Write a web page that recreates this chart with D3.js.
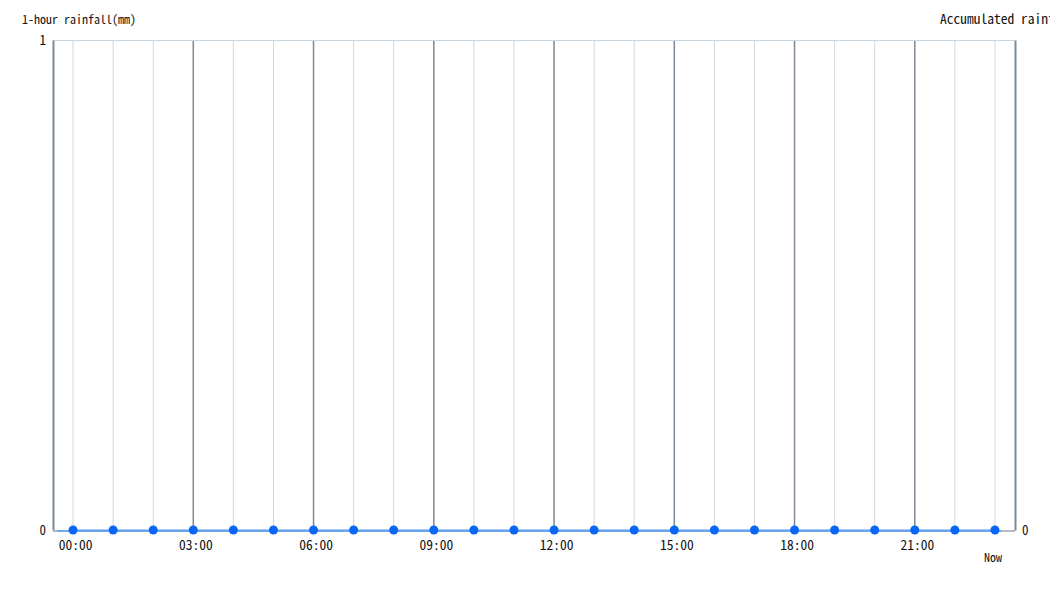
<!DOCTYPE html>
<html>
<head>
<meta charset="utf-8">
<script src="https://cdn.jsdelivr.net/npm/d3@7"></script>
<style>
  html, body { margin: 0; padding: 0; background: #fff; }
  svg { display: block; font-family: "Noto Sans Mono CJK JP", "DejaVu Sans Mono", monospace; }
</style>
</head>
<body>
<svg id="chart" width="1050" height="600"></svg>
<script>
// 時刻 (00:00 .. 23:00, 最後一格 = Now)
const hours = d3.range(24).map((h) => String(h).padStart(2, '0') + ':00');
// 1 小時雨量 (mm)
const rainfall1h = [0, 0, 0, 0, 0, 0, 0, 0, 0, 0, 0, 0, 0, 0, 0, 0, 0, 0, 0, 0, 0, 0, 0, 0];
// 累積雨量 (mm)
const rainfallAcc = [0, 0, 0, 0, 0, 0, 0, 0, 0, 0, 0, 0, 0, 0, 0, 0, 0, 0, 0, 0, 0, 0, 0, 0];
const leftTicks = [0, 1];
const rightTicks = [0];

const W = 1050, H = 600;
const margin = { top: 40, right: 35, bottom: 70, left: 53 };
const svg = d3.select('#chart');

const x = d3.scalePoint().domain(hours).range([margin.left, W - margin.right]).padding(0.5);
const y = d3.scaleLinear().domain([0, 1]).range([H - margin.bottom, margin.top]);
const yAcc = d3.scaleLinear().domain([0, 1]).range([H - margin.bottom, margin.top]);

const plotTop = margin.top, plotBottom = H - margin.bottom;

// 格線：每小時淺色，每 3 小時深色
svg.append('g')
  .selectAll('line')
  .data(hours)
  .join('line')
  .attr('x1', (d) => x(d)).attr('x2', (d) => x(d))
  .attr('y1', plotTop + 1).attr('y2', plotBottom)
  .attr('stroke', (d, i) => (i % 3 === 0 && i > 0 ? '#7d8994' : '#d3d7db'))
  .attr('stroke-width', (d, i) => (i % 3 === 0 && i > 0 ? 1.5 : 1));

// 上框線
svg.append('line')
  .attr('x1', margin.left).attr('x2', W - margin.right)
  .attr('y1', plotTop + 0.5).attr('y2', plotTop + 0.5)
  .attr('stroke', '#c9d6df');

// 左軸
const gl = svg.append('g').attr('transform', `translate(${margin.left},0)`)
  .call(d3.axisLeft(y).tickValues(leftTicks).tickFormat(d3.format('d')).tickSize(0).tickPadding(7));
gl.select('.domain').attr('stroke', '#7d8994').attr('stroke-width', 2);
gl.selectAll('text').attr('font-size', 13).attr('fill', '#111');
gl.attr('font-family', null);

// 右軸
const gr = svg.append('g').attr('transform', `translate(${W - margin.right},0)`)
  .call(d3.axisRight(yAcc).tickValues(rightTicks).tickFormat(d3.format('d')).tickSize(0).tickPadding(7));
gr.select('.domain').attr('stroke', '#7d8994').attr('stroke-width', 2);
gr.selectAll('text').attr('font-size', 13).attr('fill', '#111');
gr.attr('font-family', null);

// 下框線
svg.append('line')
  .attr('x1', margin.left).attr('x2', W - margin.right)
  .attr('y1', plotBottom + 1).attr('y2', plotBottom + 1)
  .attr('stroke', '#9aa4ad').attr('stroke-width', 1.5);

// X 軸標籤 (每 3 小時)
const gx = svg.append('g').attr('transform', `translate(0,${plotBottom})`)
  .call(d3.axisBottom(x).tickValues(hours.filter((d, i) => i % 3 === 0)).tickSize(0).tickPadding(10));
gx.select('.domain').remove();
gx.selectAll('text').attr('font-size', 13.5).attr('fill', '#111').attr('dx', 2);
gx.attr('font-family', null);

svg.append('text')
  .attr('x', x(hours[hours.length - 1]) - 2).attr('y', plotBottom + 32)
  .attr('text-anchor', 'middle').attr('font-size', 12).attr('fill', '#111')
  .text('Now');

// 累積雨量 (淺藍線)
const step = x.step();
svg.append('line')
  .attr('x1', x(hours[0]) - step * 0.4).attr('x2', x(hours[hours.length - 1]) + step * 0.15)
  .attr('y1', yAcc(rainfallAcc[0]) + 1).attr('y2', yAcc(rainfallAcc[rainfallAcc.length - 1]) + 1)
  .attr('stroke', '#6fa6ee').attr('stroke-width', 2);

// 1 小時雨量
svg.append('path')
  .datum(rainfall1h)
  .attr('fill', 'none')
  .attr('stroke', '#5b9af0')
  .attr('stroke-width', 1)
  .attr('d', d3.line().x((d, i) => x(hours[i])).y((d) => y(d)));

svg.append('g')
  .selectAll('circle')
  .data(rainfall1h)
  .join('circle')
  .attr('cx', (d, i) => x(hours[i]))
  .attr('cy', (d) => y(d))
  .attr('r', 4.5)
  .attr('fill', '#0a66f5');

// 軸標題
svg.append('text')
  .attr('x', 22).attr('y', 24).attr('font-size', 12).attr('fill', '#111')
  .text('1-hour rainfall(mm)');
svg.append('text')
  .attr('x', 940).attr('y', 24).attr('font-size', 13.5).attr('fill', '#111')
  .text('Accumulated rainfall(mm)');
</script>
</body>
</html>
